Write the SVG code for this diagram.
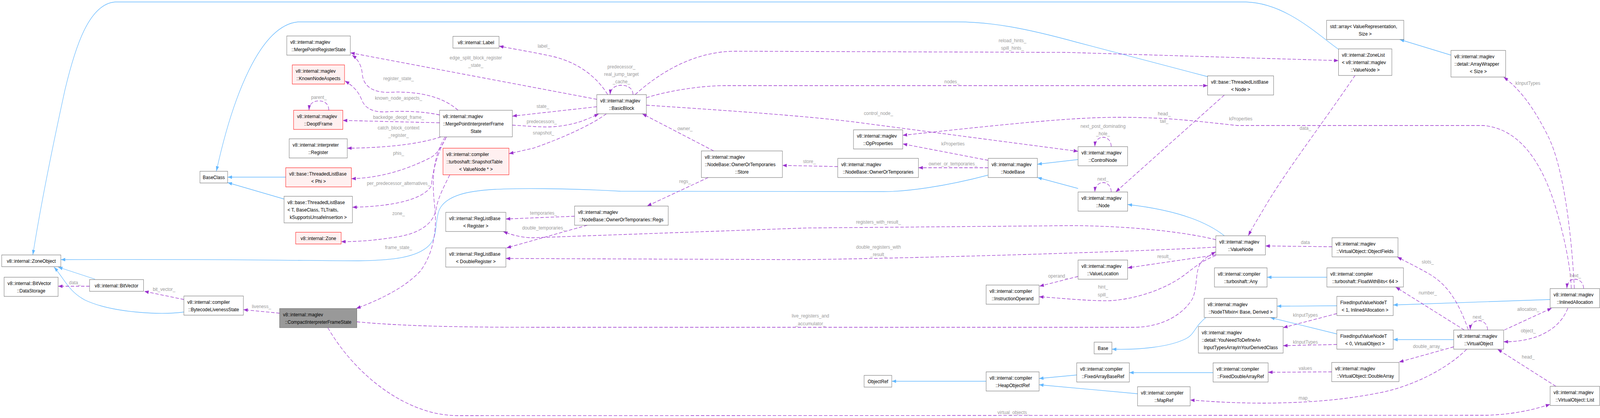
<svg xmlns="http://www.w3.org/2000/svg" width="4681" height="1069" viewBox="0 0 4681 1069">
<style>
.n rect{fill:#ffffff;stroke:#666666;stroke-width:1}
.r rect{fill:#FFF0F0;stroke:#FF0000;stroke-width:1}
.g rect{fill:#999999;stroke:#666666;stroke-width:1}
text{font-family:"Liberation Sans",Arial,sans-serif;font-size:13.5px;fill:#000000}
.c{text-anchor:middle}
.lbl{fill:#9C9C9C;text-anchor:middle}
.inh{fill:none;stroke:#63B8FF;stroke-width:1.3;marker-end:url(#ab)}
.use{fill:none;stroke:#9A32CD;stroke-width:1.3;stroke-dasharray:10,5;marker-end:url(#ap)}
</style>
<defs>
<marker id="ab" viewBox="0 0 13 9" refX="13" refY="4.5" markerWidth="13" markerHeight="9" markerUnits="userSpaceOnUse" orient="auto"><path d="M0,0 L13,4.5 L0,9 z" fill="#63B8FF"/></marker>
<marker id="ap" viewBox="0 0 13 9" refX="13" refY="4.5" markerWidth="13" markerHeight="9" markerUnits="userSpaceOnUse" orient="auto"><path d="M0,0 L13,4.5 L0,9 z" fill="#9A32CD"/></marker>
</defs>
<rect x="0" y="0" width="4681" height="1069" fill="#ffffff"/>
<g id="diagram" transform="scale(0.87503,1)">
<g id="connectors">
<path class="inh" d="M3916,126 C3850,85 3760,8 3645,5 L337,5 C260,10 220,120 190,230 C160,350 120,520 96,652"/>
<path class="inh" d="M3533,196 L3150,108 C3000,72 2900,56 2800,56 L872,56 C760,65 680,250 633,438"/>
<path class="inh" d="M836,453 L666,453"/>
<path class="inh" d="M831,509 L666,467"/>
<path class="inh" d="M278,714 L170,683"/>
<path class="inh" d="M538,798 C470,806 330,800 250,768 C200,745 190,715 158,683"/>
<path class="inh" d="M2890,448 C2760,478 2650,490 2585,490 L1815,489 C1700,483 1480,478 1400,488 C1330,495 1290,515 1282,545 C1272,580 1280,605 1255,628 C1220,658 1150,666 1050,667 C900,667 700,662 178,664"/>
<path class="inh" d="M3154,408 L3035,420"/>
<path class="inh" d="M3154,482 L3035,454"/>
<path class="inh" d="M3582,603 C3520,560 3420,535 3299,523"/>
<path class="inh" d="M4245,141 L4095,101"/>
<path class="inh" d="M3882,709 L3707,709"/>
<path class="inh" d="M3911,782 L3736,783"/>
<path class="inh" d="M3911,854 L3716,812"/>
<path class="inh" d="M4535,766 L4076,780"/>
<path class="inh" d="M4253,868.5 L4076,868.5"/>
<path class="inh" d="M3528,812 C3495,835 3495,855 3470,866 C3420,888 3330,895 3253,893"/>
<path class="inh" d="M3549,953 L3304,953"/>
<path class="inh" d="M3150,959 L3040,968"/>
<path class="inh" d="M3328,1007 L3040,984"/>
<path class="inh" d="M2885,975 L2609,975"/>
<path class="use" d="M262,732 L170,732"/>
<path class="use" d="M538,766 L422,745"/>
<path class="use" d="M818,801 L712,792"/>
<path class="use" d="M962,282 C962,266 950,258 933,258 C915,258 905,266 904,282"/>
<path class="use" d="M1746,254 L1025,135"/>
<path class="use" d="M1778,242 C1745,195 1690,160 1620,145 C1570,135 1520,128 1460,118"/>
<path class="use" d="M1852,242 C1852,226 1836,218 1818,218 C1800,218 1786,226 1785,242"/>
<path class="use" d="M1746,273 L1499,297"/>
<path class="use" d="M1499,320 C1540,322 1580,326 1621,324 C1680,320 1720,305 1752,291"/>
<path class="use" d="M1774,291 C1730,320 1640,355 1560,379 L1489,393"/>
<path class="use" d="M1340,282 C1300,250 1230,232 1140,236 C1080,238 1062,212 1060,190 C1058,165 1045,150 1030,141"/>
<path class="use" d="M1286,294 C1240,285 1180,283 1130,286 C1080,288 1065,270 1058,255 C1048,232 1030,218 1009,207"/>
<path class="use" d="M1286,314 L1003,308"/>
<path class="use" d="M1290,350 C1240,365 1150,378 1016,379"/>
<path class="use" d="M1306,350 C1290,380 1275,395 1262,402 C1200,430 1120,455 1028,457"/>
<path class="use" d="M1306,350 C1280,390 1265,440 1262,475 C1240,510 1150,528 1031,530"/>
<path class="use" d="M1316,447 C1300,475 1282,505 1277,530 C1270,572 1230,600 1137,609 C1090,615 1050,618 998,618"/>
<path class="use" d="M1302,350 C1268,400 1262,455 1272,530 C1280,600 1262,655 1230,693 C1180,740 1100,770 1042,789"/>
<path class="use" d="M1681,553 L1480,560"/>
<path class="use" d="M1718,576 L1482,634"/>
<path class="use" d="M3557,613 C3460,592 3300,578 3140,577 L2360,583 L1560,608 C1530,608 1500,602 1472,592"/>
<path class="use" d="M3557,632 C3300,645 2600,662 2340,664 L1480,661"/>
<path class="use" d="M1044,823 C1200,836 1400,837 1600,837 L3320,837 C3400,836 3460,805 3488,765 C3505,735 3495,690 3515,670 C3525,660 3540,652 3557,644"/>
<path class="use" d="M959,838 C1040,960 1190,1063 1340,1063 L4350,1062 C4420,1060 4480,1050 4535,1034"/>
<path class="use" d="M1858,242 C1950,170 2050,131 2152,131 L3120,134 L3916,155"/>
<path class="use" d="M1891,250 C1950,233 2050,219 2121,219 L3533,219"/>
<path class="use" d="M1891,269 C2150,284 2350,296 2500,312 L3154,387"/>
<path class="use" d="M2088,386 L1879,291"/>
<path class="use" d="M2072,454 L1893,527"/>
<path class="use" d="M2451,426 L2289,423"/>
<path class="use" d="M2891,410 L2641,368"/>
<path class="use" d="M2891,429 L2687,429"/>
<path class="use" d="M4597,738 C4595,680 4575,600 4551,530 C4520,440 4460,330 4340,321 L3620,321 C3500,310 3420,300 3273,300 C3150,300 3000,312 2641,346"/>
<path class="use" d="M4606,738 C4598,600 4575,430 4530,350 C4490,280 4450,230 4399,197"/>
<path class="use" d="M4633,738 C4633,723 4621,714 4607,714 C4593,714 4585,723 4584,738"/>
<path class="use" d="M3582,243 L3264,491"/>
<path class="use" d="M3251,375 C3251,360 3240,351 3227,351 C3214,351 3204,360 3203,375"/>
<path class="use" d="M3251,491 C3251,476 3240,467 3227,467 C3214,467 3204,476 3203,491"/>
<path class="use" d="M3965,192 C3870,315 3760,440 3700,530 C3680,560 3665,580 3652,603"/>
<path class="use" d="M3897,631 L3702,629"/>
<path class="use" d="M3557,652 L3299,685"/>
<path class="use" d="M3154,707 L3041,732"/>
<path class="use" d="M3557,654 C3520,665 3500,680 3470,700 C3420,735 3330,765 3247,769 C3180,770 3100,762 3040,759"/>
<path class="use" d="M3911,802 L3754,838"/>
<path class="use" d="M3911,881 L3754,884"/>
<path class="use" d="M3896,951 L3710,952"/>
<path class="use" d="M4291,893 C4250,930 4160,980 4050,1002 C3950,1020 3850,1030 3700,1031 C3600,1031 3530,1026 3482,1023"/>
<path class="use" d="M4296,844 C4270,780 4240,730 4180,700 C4140,680 4110,668 4088,657"/>
<path class="use" d="M4284,844 L4083,734"/>
<path class="use" d="M4352,844 C4352,829 4340,820 4326,820 C4312,820 4302,829 4301,844"/>
<path class="use" d="M4401,844 L4540,788"/>
<path class="use" d="M4587,788 C4570,825 4540,845 4500,860 C4460,872 4430,874 4399,874"/>
<path class="use" d="M4253,887 L4093,926"/>
<path class="use" d="M4552,988 L4381,893"/>
<text class="lbl" x="219" y="727">data_</text>
<text class="lbl" x="480" y="744">bit_vector_</text>
<text class="lbl" x="765" y="788">liveness_</text>
<text class="lbl" x="933" y="253">parent_</text>
<text class="lbl" x="1392" y="152">edge_split_block_register</text>
<text class="lbl" x="1392" y="171">_state_</text>
<text class="lbl" x="1166" y="205">register_state_</text>
<text class="lbl" x="1166" y="255">known_node_aspects_</text>
<text class="lbl" x="1166" y="304">backedge_deopt_frame_</text>
<text class="lbl" x="1166" y="331">catch_block_context</text>
<text class="lbl" x="1166" y="350">_register_</text>
<text class="lbl" x="1166" y="396">phis_</text>
<text class="lbl" x="1166" y="473">per_predecessor_alternatives_</text>
<text class="lbl" x="1166" y="550">zone_</text>
<text class="lbl" x="1166" y="637">frame_state_</text>
<text class="lbl" x="1591" y="122">label_</text>
<text class="lbl" x="1818" y="175">predecessor_</text>
<text class="lbl" x="1818" y="194">real_jump_target</text>
<text class="lbl" x="1818" y="213">_cache_</text>
<text class="lbl" x="1588" y="276">state_</text>
<text class="lbl" x="1585" y="315">predecessors_</text>
<text class="lbl" x="1590" y="344">snapshot_</text>
<text class="lbl" x="1590" y="549">temporaries_</text>
<text class="lbl" x="1591" y="587">double_temporaries_</text>
<text class="lbl" x="2004" y="333">owner_</text>
<text class="lbl" x="2004" y="468">regs_</text>
<text class="lbl" x="2368" y="417">store_</text>
<text class="lbl" x="2962" y="108">reload_hints_</text>
<text class="lbl" x="2962" y="127">spill_hints_</text>
<text class="lbl" x="2785" y="213">nodes_</text>
<text class="lbl" x="2570" y="294">control_node_</text>
<text class="lbl" x="2788" y="372">kProperties</text>
<text class="lbl" x="2788" y="423">owner_or_temporaries_</text>
<text class="lbl" x="2570" y="572">registers_with_result_</text>
<text class="lbl" x="2570" y="636">double_registers_with</text>
<text class="lbl" x="2570" y="655">_result_</text>
<text class="lbl" x="2371" y="812">live_registers_and</text>
<text class="lbl" x="2371" y="832">_accumulator_</text>
<text class="lbl" x="2965" y="1059">virtual_objects_</text>
<text class="lbl" x="3406" y="295">head_</text>
<text class="lbl" x="3406" y="314">tail_</text>
<text class="lbl" x="3630" y="308">kProperties</text>
<text class="lbl" x="3227" y="327">next_post_dominating</text>
<text class="lbl" x="3227" y="346">_hole_</text>
<text class="lbl" x="3227" y="462">next_</text>
<text class="lbl" x="3819" y="332">data_</text>
<text class="lbl" x="3819" y="624">data</text>
<text class="lbl" x="3406" y="660">result_</text>
<text class="lbl" x="3095" y="710">operand_</text>
<text class="lbl" x="3227" y="738">hint_</text>
<text class="lbl" x="3227" y="758">spill_</text>
<text class="lbl" x="3819" y="810">kInputTypes</text>
<text class="lbl" x="3819" y="879">kInputTypes</text>
<text class="lbl" x="3819" y="946">values</text>
<text class="lbl" x="3816" y="1022">map_</text>
<text class="lbl" x="4470" y="217">kInputTypes</text>
<text class="lbl" x="4609" y="709">next_</text>
<text class="lbl" x="4177" y="674">slots_</text>
<text class="lbl" x="4177" y="753">number_</text>
<text class="lbl" x="4325" y="815">next_</text>
<text class="lbl" x="4471" y="795">allocation_</text>
<text class="lbl" x="4471" y="850">object_</text>
<text class="lbl" x="4177" y="890">double_array_</text>
<text class="lbl" x="4471" y="917">head_</text>
</g>
<g id="n_ZoneObject" class="n"><rect x="5" y="652" width="173" height="30"/><text class="c" x="91.5" y="672">v8::internal::ZoneObject</text></g>
<g id="n_DataStorage" class="n"><rect x="12" y="709" width="158" height="49"/><text x="22" y="729">v8::internal::BitVector</text><text class="c" x="91" y="748">::DataStorage</text></g>
<g id="n_BitVector" class="n"><rect x="262" y="715" width="158" height="30"/><text class="c" x="341" y="735">v8::internal::BitVector</text></g>
<g id="n_BytecodeLivenessState" class="n"><rect x="538" y="757" width="174" height="49"/><text x="548" y="777">v8::internal::compiler</text><text class="c" x="625" y="796">::BytecodeLivenessState</text></g>
<g id="n_BaseClass" class="n"><rect x="585" y="438" width="81" height="30"/><text class="c" x="625.5" y="458">BaseClass</text></g>
<g id="n_MergePointRegisterState" class="n"><rect x="839" y="92" width="186" height="49"/><text x="849" y="112">v8::internal::maglev</text><text class="c" x="932" y="131">::MergePointRegisterState</text></g>
<g id="n_KnownNodeAspects" class="r"><rect x="855" y="166" width="153" height="49"/><text x="865" y="186">v8::internal::maglev</text><text class="c" x="931.5" y="205">::KnownNodeAspects</text></g>
<g id="n_DeoptFrame" class="r"><rect x="859" y="282" width="144" height="49"/><text x="869" y="302">v8::internal::maglev</text><text class="c" x="931" y="321">::DeoptFrame</text></g>
<g id="n_Register" class="n"><rect x="846" y="355" width="170" height="49"/><text x="856" y="375">v8::internal::interpreter</text><text class="c" x="931" y="394">::Register</text></g>
<g id="n_ThreadedListBasePhi" class="r"><rect x="836" y="429" width="192" height="49"/><text x="846" y="449">v8::base::ThreadedListBase</text><text class="c" x="932" y="468">&lt; Phi &gt;</text></g>
<g id="n_ThreadedListBaseT" class="n"><rect x="831" y="502" width="200" height="68"/><text x="841" y="522">v8::base::ThreadedListBase</text><text x="841" y="541">&lt; T, BaseClass, TLTraits,</text><text class="c" x="931" y="560">kSupportsUnsafeInsertion &gt;</text></g>
<g id="n_Zone" class="r"><rect x="865" y="594" width="133" height="30"/><text class="c" x="931.5" y="614">v8::internal::Zone</text></g>
<g id="n_CompactInterpreterFrameState" class="g"><rect x="818" y="789" width="226" height="49"/><text x="828" y="809">v8::internal::maglev</text><text class="c" x="931" y="828">::CompactInterpreterFrameState</text></g>
<g id="n_Label" class="n"><rect x="1325" y="93" width="135" height="30"/><text class="c" x="1392.5" y="113">v8::internal::Label</text></g>
<g id="n_MergePointInterpreterFrameState" class="n"><rect x="1286" y="282" width="213" height="68"/><text x="1296" y="302">v8::internal::maglev</text><text x="1296" y="321">::MergePointInterpreterFrame</text><text class="c" x="1392.5" y="340">State</text></g>
<g id="n_SnapshotTable" class="r"><rect x="1296" y="379" width="193" height="68"/><text x="1306" y="399">v8::internal::compiler</text><text x="1306" y="418">::turboshaft::SnapshotTable</text><text class="c" x="1392.5" y="437">&lt; ValueNode * &gt;</text></g>
<g id="n_RegListBaseRegister" class="n"><rect x="1304" y="543" width="176" height="49"/><text x="1314" y="563">v8::internal::RegListBase</text><text class="c" x="1392" y="582">&lt; Register &gt;</text></g>
<g id="n_RegListBaseDoubleRegister" class="n"><rect x="1304" y="634" width="176" height="49"/><text x="1314" y="654">v8::internal::RegListBase</text><text class="c" x="1392" y="673">&lt; DoubleRegister &gt;</text></g>
<g id="n_BasicBlock" class="n"><rect x="1746" y="242" width="145" height="49"/><text x="1756" y="262">v8::internal::maglev</text><text class="c" x="1818.5" y="281">::BasicBlock</text></g>
<g id="n_Store" class="n"><rect x="2052" y="386" width="237" height="68"/><text x="2062" y="406">v8::internal::maglev</text><text x="2062" y="425">::NodeBase::OwnerOrTemporaries</text><text class="c" x="2170.5" y="444">::Store</text></g>
<g id="n_Regs" class="n"><rect x="1681" y="527" width="274" height="49"/><text x="1691" y="547">v8::internal::maglev</text><text class="c" x="1818" y="566">::NodeBase::OwnerOrTemporaries::Regs</text></g>
<g id="n_OpProperties" class="n"><rect x="2497" y="332" width="144" height="49"/><text x="2507" y="352">v8::internal::maglev</text><text class="c" x="2569" y="371">::OpProperties</text></g>
<g id="n_OwnerOrTemporaries" class="n"><rect x="2451" y="405" width="236" height="49"/><text x="2461" y="425">v8::internal::maglev</text><text class="c" x="2569" y="444">::NodeBase::OwnerOrTemporaries</text></g>
<g id="n_NodeBase" class="n"><rect x="2891" y="405" width="144" height="49"/><text x="2901" y="425">v8::internal::maglev</text><text class="c" x="2963" y="444">::NodeBase</text></g>
<g id="n_ControlNode" class="n"><rect x="3154" y="375" width="145" height="49"/><text x="3164" y="395">v8::internal::maglev</text><text class="c" x="3226.5" y="414">::ControlNode</text></g>
<g id="n_Node" class="n"><rect x="3154" y="491" width="145" height="49"/><text x="3164" y="511">v8::internal::maglev</text><text class="c" x="3226.5" y="530">::Node</text></g>
<g id="n_ThreadedListBaseNode" class="n"><rect x="3533" y="194" width="193" height="49"/><text x="3543" y="214">v8::base::ThreadedListBase</text><text class="c" x="3629.5" y="233">&lt; Node &gt;</text></g>
<g id="n_ZoneList" class="n"><rect x="3916" y="125" width="156" height="68"/><text x="3926" y="145">v8::internal::ZoneList</text><text x="3926" y="164">&lt; v8::internal::maglev</text><text class="c" x="3994" y="183">::ValueNode &gt;</text></g>
<g id="n_StdArray" class="n"><rect x="3881" y="52" width="226" height="49"/><text x="3891" y="72">std::array&lt; ValueRepresentation,</text><text class="c" x="3994" y="91">Size &gt;</text></g>
<g id="n_ArrayWrapper" class="n"><rect x="4245" y="129" width="160" height="68"/><text x="4255" y="149">v8::internal::maglev</text><text x="4255" y="168">::detail::ArrayWrapper</text><text class="c" x="4325" y="187">&lt; Size &gt;</text></g>
<g id="n_ValueNode" class="n"><rect x="3557" y="603" width="145" height="49"/><text x="3567" y="623">v8::internal::maglev</text><text class="c" x="3629.5" y="642">::ValueNode</text></g>
<g id="n_ValueLocation" class="n"><rect x="3154" y="665" width="145" height="49"/><text x="3164" y="685">v8::internal::maglev</text><text class="c" x="3226.5" y="704">::ValueLocation</text></g>
<g id="n_InstructionOperand" class="n"><rect x="2885" y="729" width="155" height="49"/><text x="2895" y="749">v8::internal::compiler</text><text class="c" x="2962.5" y="768">::InstructionOperand</text></g>
<g id="n_Any" class="n"><rect x="3553" y="685" width="154" height="49"/><text x="3563" y="705">v8::internal::compiler</text><text class="c" x="3630" y="724">::turboshaft::Any</text></g>
<g id="n_NodeTMixin" class="n"><rect x="3523" y="763" width="213" height="49"/><text x="3533" y="783">v8::internal::maglev</text><text class="c" x="3629.5" y="802">::NodeTMixin&lt; Base, Derived &gt;</text></g>
<g id="n_YouNeedToDefine" class="n"><rect x="3506" y="835" width="248" height="68"/><text x="3516" y="855">v8::internal::maglev</text><text x="3516" y="874">::detail::YouNeedToDefineAn</text><text class="c" x="3630" y="893">InputTypesArrayInYourDerivedClass</text></g>
<g id="n_Base" class="n"><rect x="3201" y="875" width="52" height="30"/><text class="c" x="3227" y="895">Base</text></g>
<g id="n_FixedArrayBaseRef" class="n"><rect x="3150" y="928" width="154" height="49"/><text x="3160" y="948">v8::internal::compiler</text><text class="c" x="3227" y="967">::FixedArrayBaseRef</text></g>
<g id="n_FixedDoubleArrayRef" class="n"><rect x="3549" y="928" width="161" height="49"/><text x="3559" y="948">v8::internal::compiler</text><text class="c" x="3629.5" y="967">::FixedDoubleArrayRef</text></g>
<g id="n_MapRef" class="n"><rect x="3328" y="989" width="154" height="49"/><text x="3338" y="1009">v8::internal::compiler</text><text class="c" x="3405" y="1028">::MapRef</text></g>
<g id="n_ObjectRef" class="n"><rect x="2528" y="960" width="81" height="30"/><text class="c" x="2568.5" y="980">ObjectRef</text></g>
<g id="n_HeapObjectRef" class="n"><rect x="2885" y="951" width="155" height="49"/><text x="2895" y="971">v8::internal::compiler</text><text class="c" x="2962.5" y="990">::HeapObjectRef</text></g>
<g id="n_ObjectFields" class="n"><rect x="3897" y="608" width="193" height="49"/><text x="3907" y="628">v8::internal::maglev</text><text class="c" x="3993.5" y="647">::VirtualObject::ObjectFields</text></g>
<g id="n_FloatWithBits" class="n"><rect x="3882" y="685" width="224" height="49"/><text x="3892" y="705">v8::internal::compiler</text><text class="c" x="3994" y="724">::turboshaft::FloatWithBits&lt; 64 &gt;</text></g>
<g id="n_FixedInput1" class="n"><rect x="3911" y="758" width="165" height="49"/><text x="3921" y="778">FixedInputValueNodeT</text><text class="c" x="3993.5" y="797">&lt; 1, InlinedAllocation &gt;</text></g>
<g id="n_FixedInput0" class="n"><rect x="3911" y="844" width="165" height="49"/><text x="3921" y="864">FixedInputValueNodeT</text><text class="c" x="3993.5" y="883">&lt; 0, VirtualObject &gt;</text></g>
<g id="n_DoubleArray" class="n"><rect x="3896" y="927" width="197" height="49"/><text x="3906" y="947">v8::internal::maglev</text><text class="c" x="3994.5" y="966">::VirtualObject::DoubleArray</text></g>
<g id="n_VirtualObject" class="n"><rect x="4253" y="844" width="146" height="49"/><text x="4263" y="864">v8::internal::maglev</text><text class="c" x="4326" y="883">::VirtualObject</text></g>
<g id="n_InlinedAllocation" class="n"><rect x="4535" y="738" width="145" height="49"/><text x="4545" y="758">v8::internal::maglev</text><text class="c" x="4607.5" y="777">::InlinedAllocation</text></g>
<g id="n_VirtualObjectList" class="n"><rect x="4535" y="988" width="145" height="49"/><text x="4545" y="1008">v8::internal::maglev</text><text class="c" x="4607.5" y="1027">::VirtualObject::List</text></g>
</g>
</svg>
